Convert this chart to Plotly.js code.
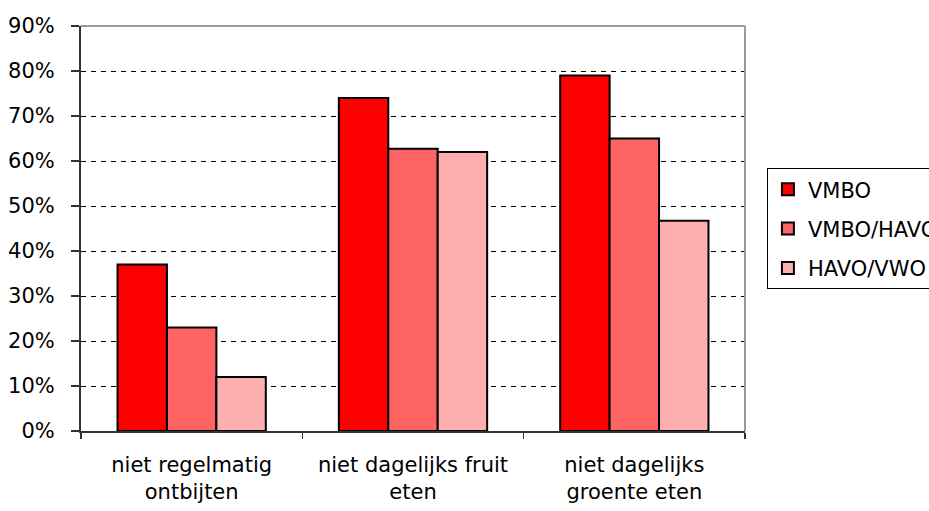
<!DOCTYPE html>
<html>
<head>
<meta charset="utf-8">
<script src="https://cdn.plot.ly/plotly-3.0.1.min.js"></script>
<style>html,body{margin:0;padding:0;background:#fff;}#chart{width:929px;height:511px;}</style>
</head>
<body>
<div id="chart"></div>
<script>
const categories = ["niet regelmatig<br>ontbijten", "niet dagelijks fruit<br>eten", "niet dagelijks<br>groente eten"];
const seriesNames = ["VMBO", "VMBO/HAVO", "HAVO/VWO"];
const vmbo = [0.37, 0.74, 0.79];
const vmboHavo = [0.23, 0.627, 0.65];
const havoVwo = [0.12, 0.62, 0.467];
const seriesValues = [vmbo, vmboHavo, havoVwo];
const colors = ["#FF0000", "#FF6464", "#FFAFAF"];

const FONT = "DejaVu Sans, Arial, sans-serif";

const traces = seriesValues.map((vals, i) => ({
  type: "bar",
  name: seriesNames[i],
  x: categories,
  y: vals,
  legendgroup: "g" + i,
  marker: {color: colors[i], line: {color: "#000", width: 2}},
  hoverinfo: "skip"
}));

const layout = {
  width: 929, height: 511,
  margin: {l: 81, r: 184, t: 26, b: 80, pad: 0, autoexpand: false},
  paper_bgcolor: "#fff", plot_bgcolor: "#fff",
  font: {family: FONT, size: 21, color: "#000"},
  barmode: "group",
  bargap: 0.33,
  bargroupgap: 0,
  showlegend: true,
  legend: {
    x: 1.033, xanchor: "left", y: 0.649, yanchor: "top",
    bordercolor: "#000", borderwidth: 1, bgcolor: "#fff",
    font: {family: FONT, size: 21, color: "#000"},
    traceorder: "grouped", tracegroupgap: 9,
    itemwidth: 30
  },
  xaxis: {
    type: "category",
    tickson: "boundaries",
    ticks: "outside", ticklen: 6, tickwidth: 1.5, tickcolor: "#333",
    showline: true, linecolor: "#333", linewidth: 1.5,
    showgrid: false, zeroline: false,
    tickfont: {family: FONT, size: 21, color: "#000"},
    ticklabelstandoff: 14,
    automargin: false,
    fixedrange: true
  },
  yaxis: {
    range: [0, 0.9], dtick: 0.1, tick0: 0,
    tickformat: ".0%",
    ticks: "outside", ticklen: 8, tickwidth: 1.5, tickcolor: "#333",
    showline: true, linecolor: "#333", linewidth: 2,
    showgrid: true, gridcolor: "#000", gridwidth: 1, griddash: "5px,5px",
    zeroline: false,
    tickfont: {family: FONT, size: 21, color: "#000"},
    ticklabelstandoff: 12,
    automargin: false,
    fixedrange: true
  },
  shapes: [
    {type: "line", xref: "paper", yref: "paper", x0: 0, x1: 1, y0: 1, y1: 1, line: {color: "#999", width: 2}},
    {type: "line", xref: "paper", yref: "paper", x0: 1, x1: 1, y0: 0, y1: 1, line: {color: "#999", width: 2}}
  ]
};

Plotly.newPlot("chart", traces, layout, {displayModeBar: false, staticPlot: true});
</script>
</body>
</html>
